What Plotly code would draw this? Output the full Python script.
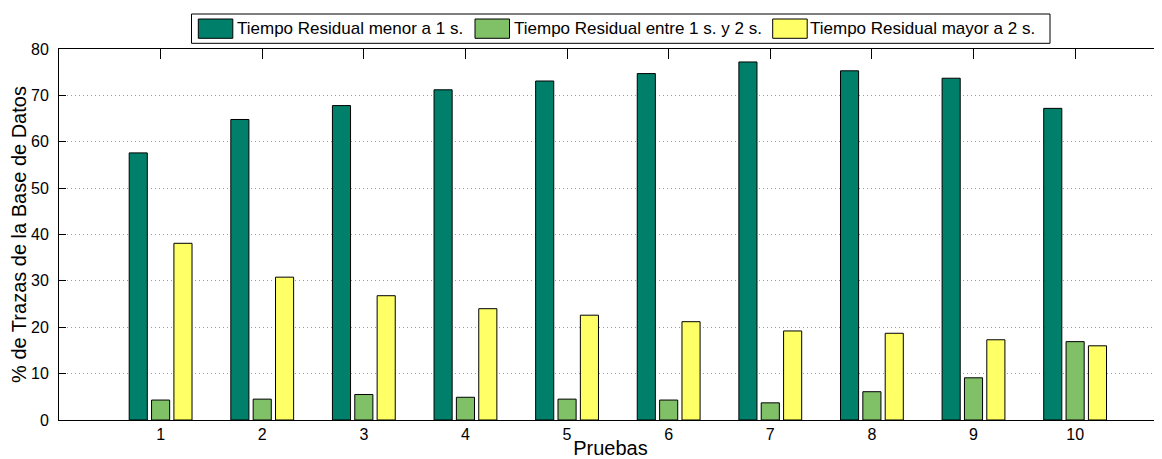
import plotly.graph_objects as go

# ---- data ----
pruebas = [1, 2, 3, 4, 5, 6, 7, 8, 9, 10]
menor_1s = [57.6, 64.8, 67.8, 71.2, 73.1, 74.7, 77.2, 75.3, 73.7, 67.2]
entre_1s_2s = [4.3, 4.5, 5.5, 4.9, 4.5, 4.3, 3.7, 6.1, 9.1, 16.9]
mayor_2s = [38.1, 30.8, 26.8, 24.0, 22.6, 21.2, 19.2, 18.7, 17.3, 16.0]
series_names = [
    "Tiempo Residual menor a 1 s.",
    "Tiempo Residual entre 1 s. y 2 s.",
    "Tiempo Residual mayor a 2 s.",
]
y_ticks = [0, 10, 20, 30, 40, 50, 60, 70, 80]

# ---- styles ----
colors = ["#00806A", "#80C067", "#FFFF66"]
FONT = "Liberation Sans, Arial, Helvetica, sans-serif"

OFF = 8  # default page body margin
W, H = 1162 - OFF, 459 - OFF
ML, MR, MT, MB = 59 - OFF, 0, 49 - OFF, 459 - 420
PW, PH = W - ML - MR, H - MT - MB


def px(xp):
    return (xp - OFF - ML) / PW


def py(yp):
    return (H - MB - (yp - OFF)) / PH


fig = go.Figure()
for name, vals, col in zip(series_names, [menor_1s, entre_1s_2s, mayor_2s], colors):
    fig.add_trace(go.Bar(
        x=pruebas, y=vals, name=name,
        marker=dict(color=col, line=dict(color="black", width=1)),
        showlegend=False,
    ))

# custom legend (box, swatches, labels)
shapes = [dict(type="rect", xref="paper", yref="paper",
               x0=px(191.5), x1=px(1050), y0=py(43.3), y1=py(14),
               line=dict(color="black", width=1), fillcolor="white", layer="above")]
annotations = []
sw_x = [198.3, 475.0, 772.7]
txt_x = [234.5, 512.3, 808.3]
for i in range(3):
    shapes.append(dict(type="rect", xref="paper", yref="paper",
                       x0=px(sw_x[i]), x1=px(sw_x[i] + 34.5), y0=py(38.3), y1=py(19),
                       line=dict(color="black", width=1), fillcolor=colors[i], layer="above"))
    annotations.append(dict(xref="paper", yref="paper", x=px(txt_x[i]), y=py(29),
                            xanchor="left", yanchor="middle", showarrow=False,
                            text=series_names[i],
                            font=dict(family=FONT, size=17, color="black")))

fig.update_layout(
    width=W, height=H,
    margin=dict(l=ML, r=MR, t=MT, b=MB, pad=0),
    paper_bgcolor="white", plot_bgcolor="white",
    barmode="group", bargap=0.34, bargroupgap=0.19,
    font=dict(family=FONT, size=16, color="black"),
    shapes=shapes, annotations=annotations,
    showlegend=False,
)
fig.update_xaxes(
    range=[0, 10.855], tickvals=pruebas, ticktext=[str(p) for p in pruebas],
    showline=True, linecolor="black", linewidth=1, mirror="ticks",
    ticks="inside", ticklen=10, tickcolor="black", tickwidth=1,
    showgrid=False, zeroline=False, layer="below traces", automargin=False,
    tickfont=dict(size=16, color="black"),
    title=dict(text="Pruebas", font=dict(size=20, color="black"), standoff=4),
)
fig.update_yaxes(
    range=[0, 80], tickvals=y_ticks,
    showline=True, linecolor="black", linewidth=1, mirror=False,
    ticks="inside", ticklen=7, tickcolor="black", tickwidth=1,
    showgrid=True, gridcolor="#9a9a9a", griddash="1px,3px", gridwidth=1,
    zeroline=False, layer="below traces", automargin=False,
    tickfont=dict(size=16, color="black"), ticklabelstandoff=6,
    title=dict(text="% de Trazas de la Base de Datos", font=dict(size=20, color="black"), standoff=1),
)

fig.write_html("out.html")
